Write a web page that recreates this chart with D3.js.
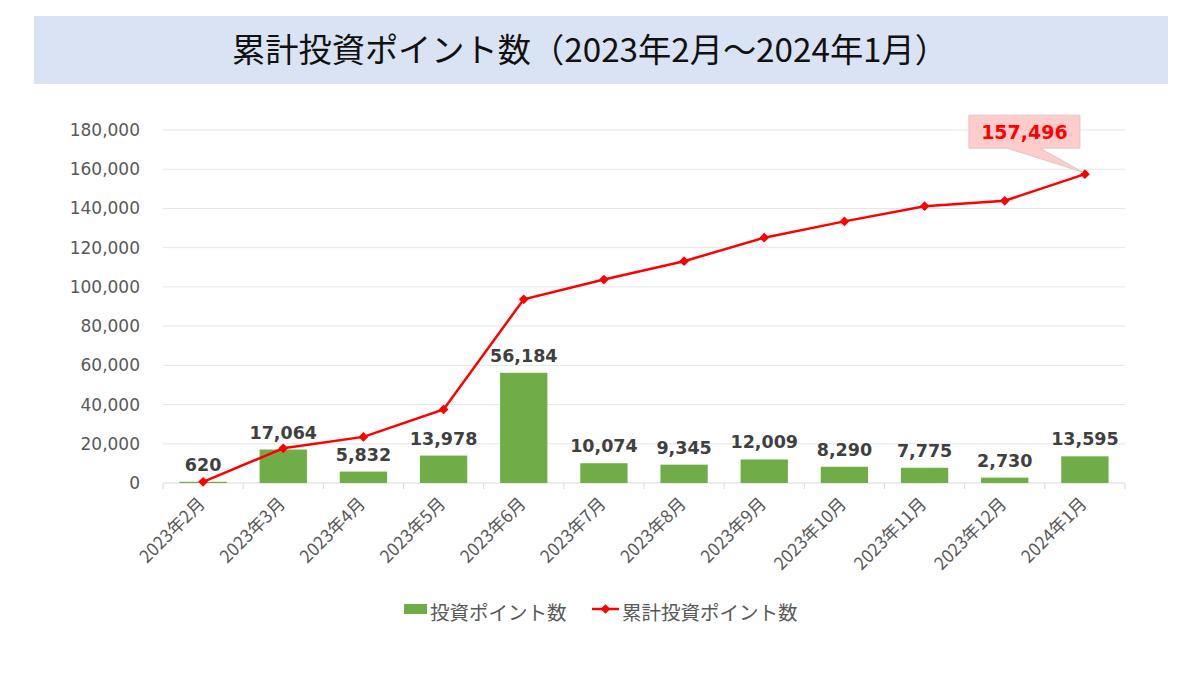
<!DOCTYPE html>
<html>
<head>
<meta charset="utf-8">
<script src="https://cdn.jsdelivr.net/npm/d3@7"></script>
<style>
  body { margin: 0; background: #fff; }
  text { font-family: "Noto Sans CJK JP", "Noto Sans", sans-serif; }
  text.num { font-family: "DejaVu Sans", sans-serif; }
</style>
</head>
<body>
<div class="chart"></div>
<script>
// DATA ---------------------------------------------------------------
const months = ['2023年2月', '2023年3月', '2023年4月', '2023年5月', '2023年6月', '2023年7月',
                '2023年8月', '2023年9月', '2023年10月', '2023年11月', '2023年12月', '2024年1月'];
const points = [620, 17064, 5832, 13978, 56184, 10074, 9345, 12009, 8290, 7775, 2730, 13595];
const cumulative = [620, 17684, 23516, 37494, 93678, 103752, 113097, 125106, 133396, 141171, 143901, 157496];
const yTicks = [0, 20000, 40000, 60000, 80000, 100000, 120000, 140000, 160000, 180000];

// CHART INIT ---------------------------------------------------------
const W = 1200, H = 675;
const margin = ({top: 130, right: 75, bottom: 192, left: 163});
const width = W - margin.left - margin.right;
const height = H - margin.top - margin.bottom;

const root = d3.select('.chart')
    .append('svg')
    .attr('width', W)
    .attr('height', H);

// title banner
root.append('rect')
    .attr('x', 34).attr('y', 16)
    .attr('width', 1134).attr('height', 68)
    .attr('fill', '#dae3f3');

root.append('text')
    .attr('x', 590).attr('y', 62)
    .attr('text-anchor', 'middle')
    .attr('font-size', 33)
    .attr('fill', '#111')
    .attr('textLength', 716)
    .attr('lengthAdjust', 'spacingAndGlyphs')
    .text('累計投資ポイント数（2023年2月～2024年1月）');

const svg = root.append('g')
    .attr('transform', 'translate(' + margin.left + ',' + margin.top + ')');

const fmt = d3.format(',');

const xScale = d3.scaleBand()
    .domain(months)
    .range([0, width])
    .paddingInner(0.41)
    .paddingOuter(0.205);

const yScale = d3.scaleLinear()
    .domain([0, 180000])
    .range([height, 0]);

// gridlines
svg.append('g')
    .selectAll('line')
    .data(yTicks.slice(1))
    .join('line')
    .attr('x1', 0).attr('x2', width)
    .attr('y1', d => yScale(d)).attr('y2', d => yScale(d))
    .attr('stroke', '#e6e6e6')
    .attr('stroke-width', 1);

// y axis labels
const yAxis = d3.axisLeft(yScale)
    .tickValues(yTicks)
    .tickFormat(fmt)
    .tickSize(0)
    .tickPadding(23);

svg.append('g')
    .attr('class', 'axis y-axis')
    .call(yAxis)
    .call(g => g.select('.domain').remove())
    .call(g => g.selectAll('text')
        .attr('class', 'num')
        .attr('fill', '#595959')
        .attr('font-size', 17));

// x axis baseline with tick marks on band boundaries
const xBase = svg.append('g')
    .attr('transform', 'translate(0,' + height + ')');
xBase.append('line')
    .attr('x1', 0).attr('x2', width)
    .attr('stroke', '#d9d9d9');
xBase.selectAll('.tk')
    .data(d3.range(months.length + 1))
    .join('line')
    .attr('class', 'tk')
    .attr('x1', i => i * width / months.length)
    .attr('x2', i => i * width / months.length)
    .attr('y1', 0).attr('y2', 6)
    .attr('stroke', '#d9d9d9');

// rotated x labels
xBase.selectAll('.xl')
    .data(months)
    .join('text')
    .attr('class', 'xl')
    .attr('transform', d => 'translate(' + (xScale(d) + xScale.bandwidth() / 2 + 3) + ',22) rotate(-45)')
    .attr('text-anchor', 'end')
    .attr('fill', '#595959')
    .attr('font-size', 17.5)
    .text(d => d);

// bars
svg.selectAll('.bar')
    .data(points)
    .join('rect')
    .attr('class', 'bar')
    .attr('x', (d, i) => xScale(months[i]))
    .attr('width', xScale.bandwidth())
    .attr('y', d => yScale(d))
    .attr('height', d => height - yScale(d))
    .attr('fill', '#70ad47');

// bar labels
svg.selectAll('.bar-label')
    .data(points)
    .join('text')
    .attr('class', 'bar-label num')
    .attr('x', (d, i) => xScale(months[i]) + xScale.bandwidth() / 2)
    .attr('y', d => yScale(d) - 11)
    .attr('text-anchor', 'middle')
    .attr('font-size', 17.5)
    .attr('font-weight', 'bold')
    .attr('fill', '#404040')
    .text(d => fmt(d));

// cumulative line
const cx = (d, i) => xScale(months[i]) + xScale.bandwidth() / 2;
const line = d3.line()
    .x(cx)
    .y(d => yScale(d));

svg.append('path')
    .datum(cumulative)
    .attr('d', line)
    .attr('fill', 'none')
    .attr('stroke', '#ff0000')
    .attr('stroke-width', 2.5);

const diamond = d3.symbol().type(d3.symbolDiamond2).size(60);
svg.selectAll('.mk')
    .data(cumulative)
    .join('path')
    .attr('class', 'mk')
    .attr('d', diamond)
    .attr('transform', (d, i) => 'translate(' + cx(d, i) + ',' + yScale(d) + ')')
    .attr('fill', '#ff0000');

// callout for last value
const last = cumulative.length - 1;
const px = cx(cumulative[last], last), py = yScale(cumulative[last]);
const bx = px - 116, by = py - 59, bw = 111, bh = 33;
svg.append('path')
    .attr('d', 'M' + bx + ',' + by + 'H' + (bx + bw) + 'V' + (by + bh) +
        'H' + (bx + bw - 40) + 'L' + (px - 2) + ',' + (py - 2) +
        'L' + (bx + bw - 73) + ',' + (by + bh) + 'H' + bx + 'Z')
    .attr('fill', '#ffcccc')
    .attr('stroke', '#d9c9c9')
    .attr('stroke-width', 1);
svg.append('text')
    .attr('class', 'num')
    .attr('x', bx + bw / 2)
    .attr('y', by + 24)
    .attr('text-anchor', 'middle')
    .attr('font-size', 19)
    .attr('font-weight', 'bold')
    .attr('fill', '#ff0000')
    .text(fmt(cumulative[last]));

// legend
const lg = root.append('g').attr('transform', 'translate(404,613)');
lg.append('rect')
    .attr('x', 0).attr('y', -9)
    .attr('width', 23).attr('height', 10)
    .attr('fill', '#70ad47');
lg.append('text')
    .attr('x', 26).attr('y', 7)
    .attr('font-size', 19.5)
    .attr('fill', '#595959')
    .text('投資ポイント数');
lg.append('line')
    .attr('x1', 188).attr('x2', 215)
    .attr('y1', -4).attr('y2', -4)
    .attr('stroke', '#ff0000')
    .attr('stroke-width', 2.5);
lg.append('path')
    .attr('d', diamond)
    .attr('transform', 'translate(201.5,-4)')
    .attr('fill', '#ff0000');
lg.append('text')
    .attr('x', 218).attr('y', 7)
    .attr('font-size', 19.5)
    .attr('fill', '#595959')
    .text('累計投資ポイント数');
</script>
</body>
</html>
